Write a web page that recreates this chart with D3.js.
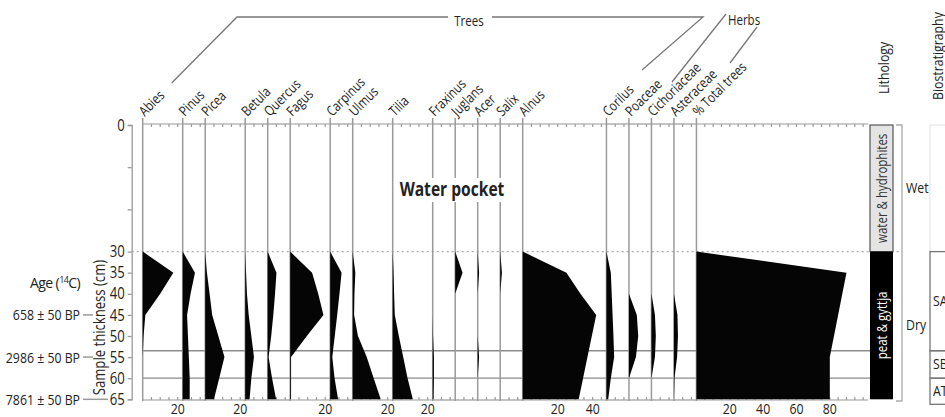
<!DOCTYPE html>
<html>
<head>
<meta charset="utf-8">
<script src="https://cdn.jsdelivr.net/npm/d3@7"></script>
<style>
  body { margin: 0; background: #fff; }
  svg, svg text { font-family: "Open Sans", sans-serif; }
  .col-line { stroke: #9a9a9a; stroke-width: 1.5; }
  .ax { stroke: #9a9a9a; stroke-width: 1.2; fill: none; }
</style>
</head>
<body>
<div id="chart"></div>
<script>
// sample depths (cm)
const depths = [30, 35, 40, 45, 50, 55, 60, 65];

// pollen percentages, one value per depth
const abies = [0, 17.5, 10, 1.5, 0.5, 0, 0, 0];
const pinus = [0, 7, 4.5, 2.5, 3, 3.5, 4, 4];
const picea = [0, 1, 2.5, 4, 7.5, 11, 8, 5];
const betula = [0, 0.5, 1, 2, 3.5, 5, 3.5, 2.5];
const quercus = [0, 5, 4.2, 3.2, 2, 0.5, 2.5, 4.8];
const fagus = [0, 12.5, 16, 19, 9.5, 0.5, 0.5, 0.5];
const carpinus = [0, 6.5, 5.3, 4, 2.6, 1.2, 2.5, 4.5];
const ulmus = [0, 1.5, 1, 0.8, 3, 8, 12, 16];
const tilia = [0, 0.5, 0.8, 1.2, 3.5, 6, 8.5, 11.5];
const fraxinus = [0, 0, 0, 0, 0.2, 0.7, 0.7, 0.5];
const juglans = [0, 4.2, 0, 0, 0, 0, 0, 0];
const acer = [0, 0.8, 0, 0, 0, 0.8, 0, 0];
const salix = [0, 1, 0, 0, 0, 0, 0, 0];
const alnus = [0, 25, 33, 42, 39.5, 37, 34.5, 32];
const corilus = [0, 2.5, 3, 3.5, 4, 4.4, 2.5, 1];
const poaceae = [0, 0, 0, 4.5, 5.3, 4, 0, 0];
const cichoriaceae = [0, 0, 0, 2, 2.5, 2, 0, 0];
const asteraceae = [0, 0, 0, 2, 2.3, 1.8, 0.3, 0];
const totalTrees = [0, 90, 87.5, 85, 82.5, 80, 80, 80];

const taxa = ['Abies', 'Pinus', 'Picea', 'Betula', 'Quercus', 'Fagus', 'Carpinus', 'Ulmus', 'Tilia',
  'Fraxinus', 'Juglans', 'Acer', 'Salix', 'Alnus', 'Corilus', 'Poaceae', 'Cichoriaceae', 'Asteraceae'];
const taxaValues = [abies, pinus, picea, betula, quercus, fagus, carpinus, ulmus, tilia,
  fraxinus, juglans, acer, salix, alnus, corilus, poaceae, cichoriaceae, asteraceae];
const axisMax = [20, 10, 20, 10, 10, 20, 10, 20, 20, 10, 10, 10, 10, 45, 10, 10, 10, 10];

const depthTicks = [0, 10, 20, 30, 35, 40, 45, 50, 55, 60, 65];
const zoneBounds = [53.5, 60];
const zones = [{ name: 'SA', top: 30, bottom: 53.5 }, { name: 'SB', top: 53.5, bottom: 60 }, { name: 'AT', top: 60, bottom: 65 }];
const ages = [{ label: '658 ± 50 BP', depth: 45 }, { label: '2986 ± 50 BP', depth: 55 }, { label: '7861 ± 50 BP', depth: 65 }];

const FONT = '"Open Sans", sans-serif';
const SQUEEZE = 0.82; // the original uses a condensed face

const svg = d3.select('#chart').append('svg')
  .attr('width', 945)
  .attr('height', 417);

const y = d3.scaleLinear().domain([0, 65]).range([125, 399.3]);
const pct = d3.scaleLinear().domain([0, 100]).range([0, 175]);
const pctTotal = d3.scaleLinear().domain([0, 100]).range([0, 166.7]);
const gap = 5;
const axisLeftX = 131.7;

// column layout
const cols = [];
let cx = 142.7;
taxa.forEach((name, i) => {
  cols.push({ name, values: taxaValues[i], max: axisMax[i], x0: cx, scale: pct });
  cx += pct(axisMax[i]) + gap;
});
cols.push({ name: '% Total trees', values: totalTrees, max: 100, x0: cx, scale: pctTotal });
const lithoX = 870;
const plotRight = lithoX;

// zone lines and water-table dotted line
svg.selectAll('.zone-line')
  .data(zoneBounds)
  .enter()
  .append('line')
  .attr('x1', cols[0].x0).attr('x2', plotRight)
  .attr('y1', d => y(d)).attr('y2', d => y(d))
  .attr('stroke', '#8c8c8c').attr('stroke-width', 1.3);

svg.append('line')
  .attr('x1', axisLeftX).attr('x2', 902)
  .attr('y1', y(30)).attr('y2', y(30))
  .attr('stroke', '#aaa').attr('stroke-width', 1.2)
  .attr('stroke-dasharray', '2,3');

// column baselines + top/bottom mini axes
const colG = svg.selectAll('.col')
  .data(cols)
  .enter()
  .append('g')
  .attr('class', 'col');

colG.append('line')
  .attr('class', 'col-line')
  .attr('x1', d => d.x0).attr('x2', d => d.x0)
  .attr('y1', 118).attr('y2', 401);

[124, 400].forEach((ay, k) => {
  colG.append('line')
    .attr('class', 'ax')
    .attr('x1', d => d.x0).attr('x2', d => d.x0 + d.scale(d.max) + gap)
    .attr('y1', ay).attr('y2', ay);
  colG.each(function (d) {
    const ticks = d3.range(5, d.max + 0.1, 5);
    d3.select(this).selectAll('.tk' + k)
      .data(ticks)
      .enter()
      .append('line')
      .attr('class', 'ax')
      .attr('x1', t => d.x0 + d.scale(t)).attr('x2', t => d.x0 + d.scale(t))
      .attr('y1', ay).attr('y2', k === 0 ? ay + 3 : ay - 3);
  });
});

// bottom tick labels
colG.each(function (d) {
  const labs = [20, 40, 60, 80].filter(v => v <= d.max && v < 100);
  d3.select(this).selectAll('.blab')
    .data(labs)
    .enter()
    .append('text')
    .attr('class', 'sq')
    .attr('x', v => d.x0 + d.scale(v))
    .attr('y', 414)
    .attr('text-anchor', 'middle')
    .attr('font-size', 15)
    .attr('fill', '#222')
    .text(v => v);
});

// silhouettes
colG.append('path')
  .attr('fill', '#050505')
  .attr('d', d => d3.area()
    .y((v, i) => y(depths[i]))
    .x0(d.x0)
    .x1(v => d.x0 + d.scale(v))(d.values));

// taxon names
colG.append('text')
  .attr('class', 'sq')
  .attr('transform', d => `translate(${d.x0 + 2},${117}) rotate(-45)`)
  .attr('font-size', 14)
  .attr('fill', '#222')
  .text(d => d.name);

// left depth axis
const yAxis = d3.axisLeft(y)
  .tickValues(depthTicks)
  .tickSize(4)
  .tickFormat(d => (d > 0 && d < 30 ? '' : d));
const ya = svg.append('g')
  .attr('transform', `translate(${axisLeftX},0)`)
  .call(yAxis);
ya.selectAll('path, line').attr('stroke', '#9a9a9a').attr('stroke-width', 1.3);
ya.selectAll('text').attr('class', 'sq').attr('font-size', 16).attr('fill', '#222')
  .attr('font-family', FONT);

svg.append('text')
  .attr('class', 'sq')
  .attr('transform', `translate(105,${y(48)}) rotate(-90)`)
  .attr('text-anchor', 'middle')
  .attr('font-size', 16)
  .attr('fill', '#222')
  .text('Sample thickness (cm)');

// ages (the title has a superscript, so it is narrowed by spacing instead)
const ageT = svg.append('text')
  .attr('x', 80).attr('y', 288)
  .attr('text-anchor', 'end')
  .attr('font-size', 14)
  .attr('letter-spacing', -0.6)
  .attr('fill', '#222');
ageT.append('tspan').text('Age (');
ageT.append('tspan').attr('font-size', 9).attr('dy', -5).text('14');
ageT.append('tspan').attr('dy', 5).text('C)');

svg.selectAll('.age')
  .data(ages)
  .enter()
  .append('text')
  .attr('class', 'sq')
  .attr('x', 80).attr('y', d => y(d.depth) + 5.5)
  .attr('text-anchor', 'end')
  .attr('font-size', 15)
  .attr('fill', '#222')
  .text(d => d.label);
svg.selectAll('.age-dash')
  .data(ages)
  .enter()
  .append('line')
  .attr('x1', 83).attr('x2', (d, i) => (i === ages.length - 1 ? 108 : 93))
  .attr('y1', d => y(d.depth)).attr('y2', d => y(d.depth))
  .attr('stroke', '#9a9a9a').attr('stroke-width', 1.5);

// water pocket note
const wpx = 452, wpy = 190;
svg.append('rect')
  .attr('x', wpx - 53).attr('y', wpy - 12).attr('width', 106).attr('height', 24)
  .attr('fill', '#fff');
svg.append('text')
  .attr('class', 'sq')
  .attr('x', wpx).attr('y', wpy + 6)
  .attr('text-anchor', 'middle')
  .attr('font-size', 19)
  .attr('font-weight', 'bold')
  .attr('fill', '#222')
  .text('Water pocket');

// group brackets
const bracket = '#777';
svg.append('path')
  .attr('d', `M${cols[0].x0 + 29},83 L237,17 H448 M492,17 H703 L642,70`)
  .attr('fill', 'none').attr('stroke', bracket).attr('stroke-width', 1.3);
svg.append('text')
  .attr('class', 'sq')
  .attr('x', 469).attr('y', 26)
  .attr('text-anchor', 'middle')
  .attr('font-size', 14).attr('fill', '#222')
  .text('Trees');
svg.append('path')
  .attr('d', 'M726,14 L672,82 M757,27 L730,63')
  .attr('fill', 'none').attr('stroke', bracket).attr('stroke-width', 1.3);
svg.append('text')
  .attr('class', 'sq')
  .attr('x', 728).attr('y', 25)
  .attr('font-size', 14).attr('fill', '#222')
  .text('Herbs');

// lithology
const lw = 23;
svg.append('rect')
  .attr('x', lithoX).attr('y', y(0)).attr('width', lw).attr('height', y(30) - y(0))
  .attr('fill', '#e4e4e4').attr('stroke', '#555').attr('stroke-width', 1.2);
svg.append('rect')
  .attr('x', lithoX).attr('y', y(30)).attr('width', lw).attr('height', y(65) - y(30))
  .attr('fill', '#000');
svg.append('text')
  .attr('class', 'sq')
  .attr('transform', `translate(${lithoX + lw / 2 + 5},${y(15)}) rotate(-90)`)
  .attr('text-anchor', 'middle').attr('font-size', 14).attr('fill', '#333')
  .text('water & hydrophites');
svg.append('text')
  .attr('class', 'sq')
  .attr('transform', `translate(${lithoX + lw / 2 + 5},${y(47.5)}) rotate(-90)`)
  .attr('text-anchor', 'middle').attr('font-size', 14).attr('fill', '#fff')
  .text('peat & gyttja');
svg.append('text')
  .attr('class', 'sq')
  .attr('transform', `translate(${lithoX + 19},94) rotate(-90)`)
  .attr('font-size', 15).attr('fill', '#222')
  .text('Lithology');

svg.append('path')
  .attr('d', `M896,${y(0)} H902 V401 H896`)
  .attr('fill', 'none').attr('stroke', '#aaa').attr('stroke-width', 1.3);
svg.append('text').attr('class', 'sq').attr('x', 906).attr('y', y(15) + 5)
  .attr('font-size', 15).attr('fill', '#222').text('Wet');
svg.append('text').attr('class', 'sq').attr('x', 906).attr('y', y(47.5) + 5)
  .attr('font-size', 15).attr('fill', '#222').text('Dry');

// biostratigraphy (cut by the right edge, as in the source figure)
const bx = 930;
svg.append('text')
  .attr('class', 'sq')
  .attr('transform', `translate(${bx + 13},100) rotate(-90)`)
  .attr('font-size', 15).attr('fill', '#222')
  .text('Biostratigraphy');
svg.append('rect')
  .attr('x', bx).attr('y', y(0)).attr('width', 40).attr('height', y(30) - y(0))
  .attr('fill', 'none').attr('stroke', '#e2e2e2');
svg.selectAll('.zone')
  .data(zones)
  .enter()
  .append('rect')
  .attr('x', bx).attr('y', d => y(d.top)).attr('width', 40)
  .attr('height', (d, i) => y(d.bottom) - y(d.top) + (i === zones.length - 1 ? 5 : 0))
  .attr('fill', 'none').attr('stroke', '#777').attr('stroke-width', 1.3);
svg.selectAll('.zone-name')
  .data(zones)
  .enter()
  .append('text')
  .attr('class', 'sq')
  .attr('x', bx + 3).attr('y', (d, i) => (y(d.top) + y(d.bottom) + (i === zones.length - 1 ? 5 : 0)) / 2 + 5)
  .attr('font-size', 15).attr('fill', '#222')
  .text(d => d.name);

// narrow the plain labels to mimic the condensed face
svg.selectAll('text.sq').each(function () {
  const w = this.getComputedTextLength();
  if (w > 0) {
    d3.select(this)
      .attr('textLength', w * SQUEEZE)
      .attr('lengthAdjust', 'spacingAndGlyphs');
  }
});
</script>
</body>
</html>
